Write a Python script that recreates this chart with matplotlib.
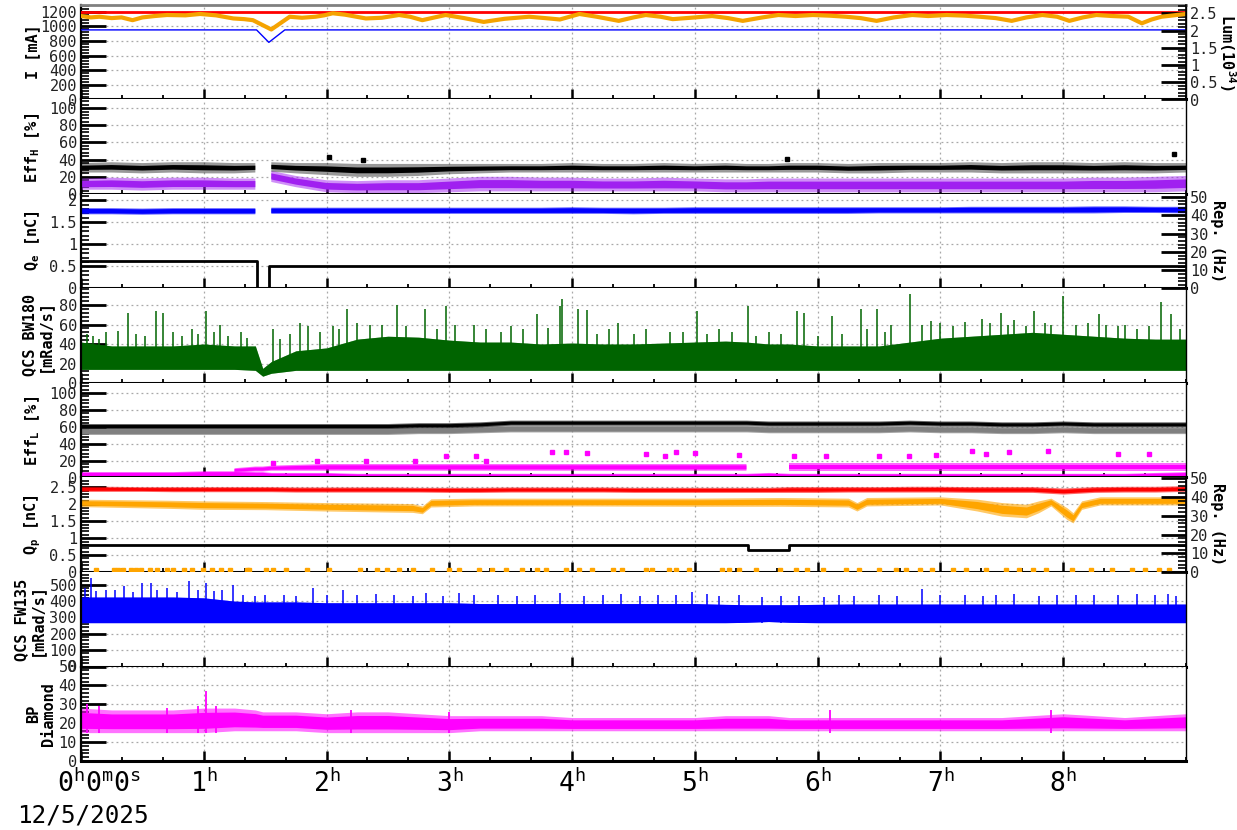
import numpy as np
import matplotlib
matplotlib.use("Agg")
import matplotlib.pyplot as plt
import matplotlib.transforms as mtransforms
from matplotlib.ticker import MultipleLocator, AutoMinorLocator, FixedLocator, FuncFormatter

nan = np.nan

# -----------------------------
# DATA (hours since 0h0m0s)
# -----------------------------

HOURS = [0.0, 0.25, 0.5, 0.75, 1.0, 1.25, 1.42, 1.48, 1.55, 1.75,
         2.0, 2.25, 2.5, 2.75, 3.0, 3.25, 3.5, 3.75, 4.0, 4.25,
         4.5, 4.75, 5.0, 5.25, 5.42, 5.6, 5.77, 6.0, 6.25, 6.5,
         6.75, 7.0, 7.25, 7.5, 7.75, 8.0, 8.25, 8.5, 8.75, 9.0]

# panel 1 : beam current [mA] and luminosity
CUR_T = [0.0, 1.43, 1.53, 1.66, 9.0]
CUR_V = [950, 950, 780, 950, 950]
RED_T = [0.0, 9.0]
RED_V = [1190, 1190]
LUM_T = [0.0, 0.08, 0.15, 0.25, 0.33, 0.42, 0.5, 0.6, 0.7, 0.85,
         0.97, 1.1, 1.24, 1.33, 1.40, 1.55, 1.70, 1.80, 1.91, 1.98,
         2.05, 2.15, 2.32, 2.45, 2.59, 2.68, 2.78, 2.88, 2.97, 3.12,
         3.28, 3.45, 3.65, 3.78, 3.90, 4.06, 4.2, 4.38, 4.50, 4.60,
         4.72, 4.82, 5.0, 5.14, 5.27, 5.39, 5.55, 5.68, 5.82, 5.96,
         6.1, 6.23, 6.35, 6.48, 6.62, 6.77, 6.9, 7.05, 7.2, 7.32,
         7.45, 7.58, 7.7, 7.83, 7.95, 8.05, 8.16, 8.27, 8.40, 8.53,
         8.64, 8.72, 8.80, 8.9, 9.0]
LUM_V = [2.42, 2.38, 2.40, 2.36, 2.38, 2.30, 2.38, 2.42, 2.45, 2.44,
         2.48, 2.44, 2.35, 2.33, 2.30, 2.03, 2.40, 2.37, 2.40, 2.44,
         2.50, 2.46, 2.35, 2.37, 2.45, 2.40, 2.30, 2.38, 2.45, 2.36,
         2.25, 2.34, 2.40, 2.36, 2.32, 2.48, 2.40, 2.28, 2.38, 2.45,
         2.40, 2.33, 2.38, 2.42, 2.36, 2.28, 2.38, 2.45, 2.42, 2.45,
         2.43, 2.40, 2.36, 2.28, 2.38, 2.45, 2.42, 2.45, 2.43, 2.40,
         2.36, 2.28, 2.38, 2.45, 2.40, 2.28, 2.38, 2.45, 2.42, 2.40,
         2.21, 2.32, 2.40, 2.44, 2.48]

# panel 2 : Eff_H [%]
EFFH_BLACK_LO = [25, 25, 24, 25, 24, 24, 25, nan, 26, 24,
                 22, 20, 20, 21, 23, 24, 25, 25, 25, 25,
                 25, 25, 25, 25, 25, 25, 25, 25, 24, 24,
                 25, 25, 25, 24, 24, 24, 24, 24, 24, 25]
EFFH_BLACK_HI = [36, 37, 36, 37, 37, 36, 36, nan, 37, 36,
                 36, 35, 35, 35, 35, 35, 35, 35, 36, 35,
                 35, 36, 35, 36, 35, 35, 36, 36, 35, 36,
                 36, 36, 37, 36, 37, 37, 36, 37, 36, 36]
EFFH_PURP_LO = [5, 5, 4, 5, 5, 5, 5, nan, 14, 8,
                2, 1, 1, 1, 2, 3, 3, 3, 3, 3,
                3, 3, 3, 2, 2, 2, 2, 2, 2, 2,
                2, 2, 2, 2, 2, 2, 2, 2, 2, 3]
EFFH_PURP_HI = [18, 19, 18, 19, 19, 18, 18, nan, 27, 21,
                16, 15, 16, 16, 18, 20, 20, 19, 19, 18,
                18, 19, 18, 17, 17, 18, 18, 18, 18, 18,
                18, 18, 18, 18, 18, 18, 19, 19, 20, 21]
EFFH_DOT_T = [2.02, 2.3, 5.75, 8.9]
EFFH_DOT_V = [43, 40, 41, 47]

# panel 3 : Q_e [nC] and repetition rate [Hz]
QE_LO = [1.68, 1.68, 1.67, 1.68, 1.68, 1.68, 1.68, nan, 1.69, 1.69,
         1.69, 1.69, 1.69, 1.69, 1.69, 1.69, 1.69, 1.69, 1.69, 1.69,
         1.68, 1.69, 1.69, 1.69, 1.69, 1.69, 1.69, 1.69, 1.69, 1.70,
         1.70, 1.70, 1.70, 1.70, 1.70, 1.70, 1.70, 1.71, 1.71, 1.70]
QE_HI = [1.82, 1.82, 1.81, 1.82, 1.82, 1.82, 1.82, nan, 1.83, 1.83,
         1.83, 1.83, 1.83, 1.83, 1.83, 1.83, 1.83, 1.83, 1.84, 1.83,
         1.83, 1.83, 1.84, 1.84, 1.84, 1.84, 1.84, 1.84, 1.84, 1.84,
         1.84, 1.84, 1.85, 1.85, 1.85, 1.85, 1.86, 1.86, 1.85, 1.85]
REP_E_T = [0.0, 1.43, 1.53, 9.0]
REP_E = [15.2, 0.0, 12.5, 12.5]

# panel 4 : QCS BW180 [mRad/s]
BW_LO = [14, 14, 14, 14, 14, 14, 13, 7, 10, 13,
         13, 13, 13, 13, 13, 13, 13, 13, 13, 13,
         13, 13, 13, 13, 13, 13, 13, 13, 13, 13,
         13, 13, 13, 13, 13, 13, 13, 13, 13, 13]
BW_HI = [42, 38, 38, 38, 40, 38, 38, 15, 22, 33,
         36, 45, 48, 47, 44, 42, 42, 40, 41, 40,
         40, 41, 42, 43, 42, 40, 40, 38, 38, 38,
         42, 46, 48, 50, 52, 50, 48, 46, 45, 45]
BW_SPIKE_T = [0.38, 0.61, 0.67, 1.02, 1.13, 1.56, 1.78, 2.17, 2.57, 2.8,
              2.97, 3.71, 3.9, 3.92, 4.05, 4.12, 4.37, 5.02, 5.43, 5.83,
              5.89, 6.12, 6.35, 6.48, 6.75, 6.92, 7.34, 7.49, 7.76, 8.0,
              8.29, 8.8, 8.88, 0.1, 0.2, 0.9, 1.3, 2.05, 2.35, 3.2,
              3.5, 4.6, 4.8, 5.2, 5.6, 6.6, 7.0, 7.2, 7.6, 7.9,
              8.2, 8.5, 8.7, 0.05, 0.15, 0.3, 0.45, 0.52, 0.75, 0.82,
              0.95, 1.08, 1.2, 1.35, 1.62, 1.7, 1.85, 1.95, 2.1, 2.25,
              2.45, 2.65, 2.9, 3.05, 3.3, 3.42, 3.6, 3.8, 4.2, 4.3,
              4.5, 4.9, 5.1, 5.3, 5.5, 5.7, 6.0, 6.2, 6.4, 6.55,
              6.85, 7.1, 7.4, 7.55, 7.7, 7.85, 8.1, 8.35, 8.45, 8.6,
              8.95]
BW_SPIKE_V = [72, 74, 72, 74, 60, 55, 62, 76, 80, 76,
              79, 71, 79, 86, 76, 75, 62, 74, 79, 74,
              72, 69, 76, 76, 91, 64, 66, 72, 74, 89,
              71, 83, 71, 48, 52, 55, 52, 58, 60, 60,
              58, 55, 52, 55, 52, 60, 62, 63, 65, 60,
              62, 60, 58, 50, 45, 53, 50, 48, 52, 48,
              50, 52, 48, 46, 45, 50, 58, 52, 55, 62,
              60, 58, 55, 60, 55, 52, 55, 56, 50, 55,
              50, 52, 50, 52, 48, 50, 48, 50, 55, 52,
              60, 58, 62, 60, 58, 62, 60, 60, 58, 55,
              55]

# panel 5 : Eff_L [%]
EFFL_BLACK_LO = [58, 58, 58, 58, 58, 58, 58, 58, 58, 58,
                 58, 58, 58, 59, 59, 60, 62, 62, 62, 62,
                 62, 62, 62, 62, 62, 61, 61, 61, 61, 61,
                 62, 61, 61, 60, 60, 61, 60, 60, 60, 60]
EFFL_BLACK_HI = [64, 64, 64, 64, 64, 64, 64, 64, 64, 64,
                 64, 64, 64, 65, 65, 66, 68, 68, 68, 68,
                 68, 68, 68, 68, 68, 67, 67, 67, 67, 67,
                 68, 67, 67, 66, 66, 67, 66, 66, 66, 66]
EFFL_GREY_LO = [51, 51, 51, 51, 51, 51, 51, 51, 51, 51,
                51, 51, 51, 52, 52, 53, 54, 54, 54, 54,
                54, 54, 54, 54, 54, 53, 53, 53, 53, 53,
                54, 53, 53, 52, 52, 53, 52, 52, 52, 52]
EFFL_GREY_HI = [59, 59, 59, 59, 59, 59, 59, 59, 59, 59,
                59, 59, 59, 60, 60, 61, 62, 62, 62, 62,
                62, 62, 62, 62, 62, 61, 61, 61, 61, 61,
                62, 61, 61, 60, 60, 61, 60, 60, 60, 60]
EFFL_MAG1_LO = [1, 1, 1, 1, 1, 1, 1, 1, 0, 0,
                0, 0, 0, 0, 0, 0, 0, 0, 0, 0,
                0, 0, 0, 0, 0, 0, 0, 0, 0, 0,
                0, 0, 0, 0, 0, 0, 0, 0, 0, 0]
EFFL_MAG1_HI = [7, 7, 7, 7, 8, 8, 7, 7, 6, 6,
                6, 5, 5, 5, 5, 5, 5, 5, 5, 5,
                5, 5, 5, 5, 5, 6, 5, 5, 5, 5,
                5, 5, 5, 5, 5, 5, 5, 5, 6, 7]
EFFL_MAG2_LO = [nan, nan, nan, nan, nan, 6, 7, 7, 8, 8,
                8, 8, 8, 8, 8, 8, 8, 8, 8, 8,
                8, 8, 8, 8, 8, nan, 8, 8, 8, 8,
                8, 8, 8, 8, 8, 8, 8, 8, 8, 8]
EFFL_MAG2_HI = [nan, nan, nan, nan, nan, 11, 13, 13, 14, 15,
                16, 16, 16, 16, 16, 16, 16, 16, 16, 16,
                16, 16, 16, 16, 16, nan, 17, 17, 17, 17,
                17, 17, 17, 17, 17, 17, 17, 17, 17, 17]
EFFL_DOT_T = [1.56, 1.92, 2.32, 2.72, 2.97, 3.22, 3.3, 3.84, 3.95, 4.12,
              4.6, 4.76, 4.85, 5.0, 5.36, 5.81, 6.07, 6.5, 6.74, 6.96,
              7.26, 7.37, 7.56, 7.88, 8.45, 8.7]
EFFL_DOT_V = [17, 19, 20, 19, 25, 26, 20, 30, 30, 29,
              28, 25, 30, 29, 27, 25, 25, 26, 26, 27,
              31, 28, 30, 31, 28, 28]

# panel 6 : Q_p [nC] and repetition rate [Hz]
QP_RED_LO = [2.38, 2.38, 2.38, 2.37, 2.37, 2.37, 2.37, 2.37, 2.37, 2.36,
             2.36, 2.36, 2.36, 2.36, 2.35, 2.35, 2.36, 2.36, 2.36, 2.36,
             2.35, 2.35, 2.35, 2.35, 2.35, 2.35, 2.35, 2.35, 2.36, 2.36,
             2.36, 2.36, 2.35, 2.35, 2.35, 2.30, 2.35, 2.36, 2.36, 2.38]
QP_RED_HI = [2.53, 2.53, 2.52, 2.52, 2.52, 2.52, 2.52, 2.52, 2.52, 2.51,
             2.51, 2.51, 2.51, 2.50, 2.50, 2.50, 2.51, 2.51, 2.51, 2.51,
             2.50, 2.50, 2.50, 2.50, 2.50, 2.50, 2.52, 2.52, 2.52, 2.52,
             2.53, 2.53, 2.52, 2.52, 2.52, 2.48, 2.52, 2.53, 2.53, 2.55]
QP_OR_T = [0.0, 0.7, 1.0, 1.5, 2.0, 2.5, 2.7, 2.78, 2.85, 3.2,
           4.0, 5.0, 5.7, 6.25, 6.32, 6.4, 7.0, 7.3, 7.5, 7.7,
           7.8, 7.9, 8.03, 8.08, 8.15, 8.3, 9.0]
QP_OR_LO = [1.93, 1.88, 1.85, 1.84, 1.80, 1.77, 1.76, 1.72, 1.92, 1.95,
            1.95, 1.94, 1.94, 1.92, 1.80, 1.95, 1.98, 1.80, 1.65, 1.60,
            1.75, 1.95, 1.55, 1.45, 1.85, 1.98, 1.98]
QP_OR_HI = [2.15, 2.12, 2.10, 2.08, 2.05, 2.03, 2.02, 1.95, 2.16, 2.18,
            2.18, 2.18, 2.20, 2.18, 2.05, 2.20, 2.22, 2.15, 2.05, 2.00,
            2.10, 2.18, 1.90, 1.75, 2.10, 2.22, 2.22]
QP_ZERO_T = [0.12, 0.27, 0.30, 0.34, 0.41, 0.45, 0.49, 0.56, 0.62, 0.70,
             0.75, 0.84, 0.90, 0.99, 1.07, 1.14, 1.21, 1.35, 1.37, 1.51,
             1.56, 1.67, 1.84, 2.02, 2.27, 2.41, 2.49, 2.59, 2.70, 2.86,
             3.00, 3.08, 3.24, 3.35, 3.46, 3.59, 3.71, 3.79, 3.95, 4.06,
             4.16, 4.33, 4.41, 4.60, 4.65, 4.79, 4.85, 4.95, 5.22, 5.28,
             5.36, 5.50, 5.69, 5.82, 5.91, 6.04, 6.23, 6.34, 6.50, 6.64,
             6.72, 6.83, 6.93, 7.10, 7.21, 7.37, 7.53, 7.64, 7.75, 7.86,
             8.07, 8.23, 8.40, 8.56, 8.67, 8.78, 8.86]
QP_ZERO_LEVEL = 0.05
REP_P_T = [0.0, 5.43, 5.77, 9.0]
REP_P = [14.5, 11.8, 14.5, 14.5]

# panel 7 : QCS FW135 [mRad/s]
FW_LO = [268, 268, 268, 268, 268, 268, 268, 268, 268, 268,
         268, 268, 268, 268, 268, 268, 268, 268, 268, 268,
         268, 268, 268, 268, 270, 275, 270, 268, 268, 268,
         268, 268, 268, 268, 268, 268, 268, 268, 268, 268]
FW_HI = [425, 425, 425, 425, 420, 400, 395, 395, 395, 395,
         390, 390, 390, 390, 390, 385, 385, 385, 385, 385,
         385, 385, 385, 380, 378, 378, 378, 380, 382, 382,
         382, 382, 382, 382, 382, 382, 382, 382, 382, 382]
FW_SPIKE_T = [0.08, 0.5, 0.57, 0.88, 1.02, 1.24, 1.89, 2.13, 2.81, 3.08,
              3.9, 4.98, 5.36, 6.17, 6.85, 8.92, 0.2, 0.35, 0.7, 1.15,
              1.5, 2.4, 3.4, 4.4, 4.7, 5.7, 6.5, 7.2, 7.6, 8.1,
              8.6, 0.03, 0.12, 0.28, 0.42, 0.62, 0.78, 0.95, 1.08, 1.32,
              1.42, 1.65, 1.75, 2.0, 2.25, 2.55, 2.7, 2.95, 3.2, 3.55,
              3.7, 4.1, 4.25, 4.55, 4.85, 5.1, 5.2, 5.55, 5.85, 6.05,
              6.3, 6.65, 7.0, 7.35, 7.45, 7.8, 7.95, 8.25, 8.45, 8.75,
              8.85]
FW_SPIKE_V = [540, 509, 513, 523, 509, 500, 480, 465, 448, 450,
              450, 457, 436, 436, 472, 430, 470, 490, 480, 470,
              440, 445, 440, 445, 440, 430, 440, 440, 445, 440,
              445, 480, 460, 470, 455, 470, 455, 465, 460, 440,
              430, 440, 430, 440, 435, 440, 430, 430, 440, 430,
              440, 430, 440, 430, 440, 445, 430, 425, 430, 425,
              430, 430, 440, 430, 440, 430, 440, 435, 440, 440,
              445]

# panel 8 : BP diamond
BP_LO = [15, 15, 15, 15, 15, 16, 16, 16, 16, 16,
         15, 15, 15, 15, 15, 16, 16, 16, 16, 16,
         16, 16, 16, 16, 16, 16, 16, 16, 16, 16,
         16, 16, 16, 16, 16, 16, 16, 16, 16, 16]
BP_HI = [28, 27, 27, 27, 28, 28, 27, 26, 26, 26,
         25, 26, 26, 25, 24, 24, 24, 24, 23, 23,
         23, 23, 23, 24, 24, 24, 23, 23, 23, 23,
         23, 23, 23, 23, 24, 25, 24, 23, 24, 25]
BP_SPIKE_T = [1.02, 0.05, 0.15, 0.7, 0.95, 1.1, 2.2, 3.0, 6.1, 7.9]
BP_SPIKE_V = [37, 30, 29, 28, 29, 29, 27, 26, 27, 27]

HOUR_LABELS = ["", "$1^\\mathrm{h}$", "$2^\\mathrm{h}$", "$3^\\mathrm{h}$", "$4^\\mathrm{h}$",
               "$5^\\mathrm{h}$", "$6^\\mathrm{h}$", "$7^\\mathrm{h}$", "$8^\\mathrm{h}$"]
START_LABEL = "$0^\\mathrm{h}0^\\mathrm{m}0^\\mathrm{s}$"
DATE_LABEL = "12/5/2025"

# -----------------------------
# STYLE
# -----------------------------

plt.rcParams.update({
    "font.family": "DejaVu Sans Mono",
    "mathtext.fontset": "custom",
    "mathtext.rm": "DejaVu Sans Mono",
    "mathtext.it": "DejaVu Sans Mono",
    "mathtext.bf": "DejaVu Sans Mono:bold",
})

W, H = 1237, 830
fig = plt.figure(figsize=(W / 100, H / 100), dpi=100)
axes = fig.subplots(8, 1, sharex=True, gridspec_kw=dict(hspace=0))
fig.subplots_adjust(left=81 / W, right=1186 / W, top=1 - 5 / H, bottom=1 - 761 / H)


def fmt(v, pos):
    return f"{v:g}"


def style_y(ax, ylim, step):
    ax.set_ylim(*ylim)
    ax.yaxis.set_major_locator(MultipleLocator(step))
    ax.yaxis.set_minor_locator(AutoMinorLocator(5))
    ax.yaxis.set_major_formatter(FuncFormatter(fmt))
    ax.tick_params(axis="y", which="major", direction="in", length=18, width=2.0,
                   color="black", labelsize=11, pad=3, labelcolor="#222222")
    ax.tick_params(axis="y", which="minor", direction="in", length=6, width=1.2, color="black")


def base(ax):
    ax.set_xlim(0, 9)
    ax.xaxis.set_major_locator(FixedLocator(range(9)))
    ax.xaxis.set_minor_locator(MultipleLocator(1 / 3))
    ax.tick_params(axis="x", which="major", direction="in", length=7, width=1.8, top=False)
    ax.tick_params(axis="x", which="minor", direction="in", length=3, width=1.3, top=False)
    ax.grid(True, which="major", color="#a8a8a8", ls=(0, (1.5, 2.5)), lw=0.9)
    ax.spines["top"].set_visible(False)
    ax.spines["bottom"].set_linewidth(2.2)
    ax.spines["left"].set_linewidth(1.6)
    ax.spines["right"].set_linewidth(1.0)


def twin(ax, ylim, step):
    tx = ax.twinx()
    style_y(tx, ylim, step)
    for s in ("top", "bottom", "left"):
        tx.spines[s].set_visible(False)
    tx.spines["right"].set_linewidth(1.2)
    return tx


def band(ax, t, lo, hi, color, core=0.6, alpha_out=0.45, z=2):
    t = np.asarray(t, float)
    lo = np.asarray(lo, float)
    hi = np.asarray(hi, float)
    ax.fill_between(t, lo, hi, color=color, alpha=alpha_out, lw=0, zorder=z)
    pad = (hi - lo) * (1 - core) / 2
    ax.fill_between(t, lo + pad, hi - pad, color=color, lw=0, zorder=z)


def spikes(ax, t, v, base_v, color, lw=1.0):
    ax.vlines(t, base_v, v, color=color, lw=lw, zorder=2)


for ax in axes:
    base(ax)

# -------- panel 1 --------
a = axes[0]
style_y(a, (0, 1290), 200)
a.plot(CUR_T, CUR_V, color="#0000ff", lw=1.0, zorder=3)
a.plot(RED_T, RED_V, color="#ff0000", lw=2.0, zorder=3)
a.spines["top"].set_visible(True)
a.spines["top"].set_color("#808080")
a.spines["top"].set_linewidth(2)
t1 = twin(a, (0, 2.74), 0.5)
t1.plot(LUM_T, LUM_V, color="#f5a300", lw=3.0)

# -------- panel 2 --------
a = axes[1]
style_y(a, (0, 110), 20)
band(a, HOURS, EFFH_PURP_LO, EFFH_PURP_HI, "#a020f0", core=0.55, alpha_out=0.5)
band(a, HOURS, EFFH_BLACK_LO, EFFH_BLACK_HI, "#000000", core=0.45, alpha_out=0.4)
a.plot(EFFH_DOT_T, EFFH_DOT_V, "s", color="k", ms=2.5, zorder=3)

# -------- panel 3 --------
a = axes[2]
style_y(a, (0, 2.14), 0.5)
band(a, HOURS, QE_LO, QE_HI, "#0000ff", core=0.7, alpha_out=0.6)
t3 = twin(a, (0, 51.6), 10)
t3.plot(REP_E_T, REP_E, drawstyle="steps-post", color="k", lw=2.0)

# -------- panel 4 --------
a = axes[3]
style_y(a, (0, 97), 20)
band(a, HOURS, BW_LO, BW_HI, "#006400", core=1.0)
spikes(a, BW_SPIKE_T, BW_SPIKE_V, BW_LO[0], "#006400", lw=1.1)

# -------- panel 5 --------
a = axes[4]
style_y(a, (0, 112), 20)
band(a, HOURS, EFFL_GREY_LO, EFFL_GREY_HI, "#808080", core=0.7, alpha_out=0.7)
band(a, HOURS, EFFL_BLACK_LO, EFFL_BLACK_HI, "#000000", core=0.6, alpha_out=0.6)
band(a, HOURS, EFFL_MAG1_LO, EFFL_MAG1_HI, "#ff00ff", core=0.7, alpha_out=0.6)
band(a, HOURS, EFFL_MAG2_LO, EFFL_MAG2_HI, "#ff00ff", core=0.6, alpha_out=0.6)
a.plot(EFFL_DOT_T, EFFL_DOT_V, "s", color="#ff00ff", ms=2.5, zorder=3)

# -------- panel 6 --------
a = axes[5]
style_y(a, (0, 2.79), 0.5)
band(a, HOURS, QP_RED_LO, QP_RED_HI, "#ff0000", core=0.6, alpha_out=0.6)
band(a, QP_OR_T, QP_OR_LO, QP_OR_HI, "#ffa500", core=0.6, alpha_out=0.6)
a.plot(QP_ZERO_T, np.full(len(QP_ZERO_T), QP_ZERO_LEVEL), "s", color="#ffa500", ms=2.2, zorder=3)
t6 = twin(a, (0, 50.5), 10)
t6.plot(REP_P_T, REP_P, drawstyle="steps-post", color="k", lw=2.0)

# -------- panel 7 --------
a = axes[6]
style_y(a, (0, 578), 100)
band(a, HOURS, FW_LO, FW_HI, "#0000ff", core=1.0)
spikes(a, FW_SPIKE_T, FW_SPIKE_V, FW_LO[0], "#0000ff", lw=1.1)

# -------- panel 8 --------
a = axes[7]
style_y(a, (0, 50), 10)
band(a, HOURS, BP_LO, BP_HI, "#ff00ff", core=0.65, alpha_out=0.55)
spikes(a, BP_SPIKE_T, BP_SPIKE_V, BP_LO[0], "#ff00ff", lw=1.3)

# x tick labels on the bottom panel
a.set_xticklabels(HOUR_LABELS, fontsize=19)
a.tick_params(axis="x", which="major", pad=6)
shift = mtransforms.ScaledTranslation(0.18, -6 / 72, fig.dpi_scale_trans)
a.text(0, 0, START_LABEL, transform=a.get_xaxis_transform() + shift,
       ha="center", va="top", fontsize=19, clip_on=False)
fig.text(17 / W, 8 / H, DATE_LABEL, fontsize=17.5, ha="left", va="baseline")


# -----------------------------
# AXIS LABELS (placed in pixels)
# -----------------------------

def ylab(xpx, ypx, s, rot=90):
    fig.text(xpx / W, 1 - ypx / H, s, rotation=rot, ha="center", va="center",
             fontsize=11, fontweight="bold", linespacing=1.05, multialignment="center")


ylab(33, 52, "I [mA]")
ylab(33, 148, r"Eff$_\mathbf{H}$ [%]")
ylab(33, 241, r"Q$_\mathbf{e}$ [nC]")
ylab(37, 335, "QCS BW180\n[mRad/s]")
ylab(33, 431, r"Eff$_\mathbf{L}$ [%]")
ylab(33, 525, r"Q$_\mathbf{p}$ [nC]")
ylab(29, 620, "QCS FW135\n[mRad/s]")
ylab(41, 714, "BP\nDiamond")
ylab(1227, 52, r"Lum(10$^\mathbf{34}$)", rot=-90)
ylab(1217, 241, "Rep. (Hz)", rot=-90)
ylab(1217, 524, "Rep. (Hz)", rot=-90)

fig.savefig("out.png", dpi=100, facecolor="white")
